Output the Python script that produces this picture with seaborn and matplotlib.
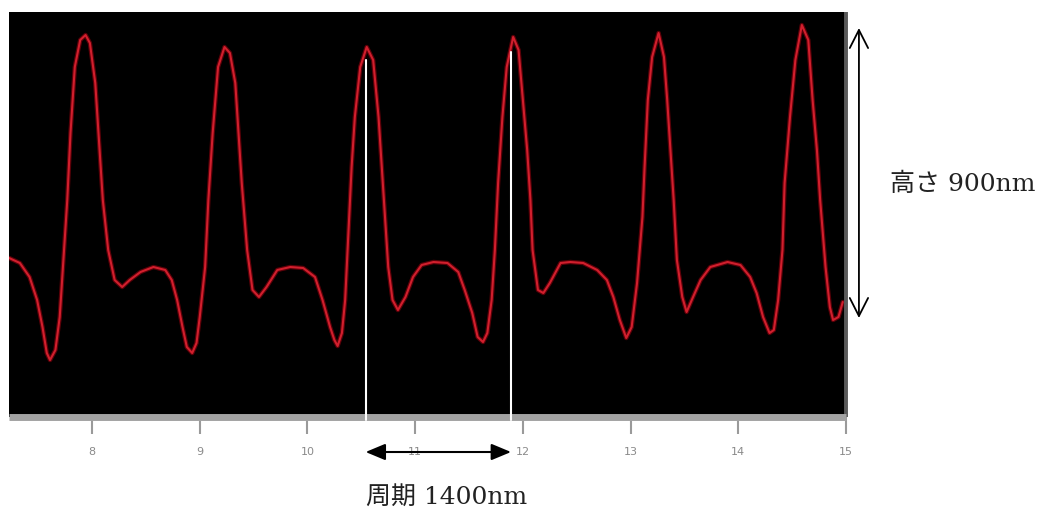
"""Line profile of a periodic structure, with period / height annotations."""

import matplotlib

matplotlib.use("Agg")
import matplotlib.pyplot as plt
import pandas as pd
import seaborn as sns

sns.set_style("white")
plt.rcParams["figure.dpi"] = 100

# profile: lateral position (um) and height (nm)
position_um = [
    7.23, 7.33, 7.42, 7.49, 7.54, 7.58, 7.61, 7.66, 7.70, 7.73,
    7.77, 7.80, 7.84, 7.89, 7.94, 7.98, 8.03, 8.06, 8.10, 8.15,
    8.21, 8.28, 8.35, 8.45, 8.57, 8.68, 8.74, 8.79, 8.84, 8.88,
    8.93, 8.97, 9.00, 9.05, 9.08, 9.12, 9.17, 9.23, 9.28, 9.33,
    9.36, 9.39, 9.44, 9.49, 9.55, 9.62, 9.72, 9.84, 9.96, 10.07,
    10.14, 10.21, 10.25, 10.28, 10.32, 10.35, 10.38, 10.41, 10.44, 10.49,
    10.55, 10.61, 10.66, 10.69, 10.72, 10.75, 10.79, 10.84, 10.91, 10.98,
    11.06, 11.17, 11.30, 11.40, 11.46, 11.53, 11.58, 11.63, 11.67, 11.71,
    11.74, 11.77, 11.81, 11.85, 11.91, 11.96, 12.00, 12.04, 12.07, 12.09,
    12.14, 12.19, 12.25, 12.35, 12.44, 12.56, 12.69, 12.78, 12.84, 12.90,
    12.96, 13.01, 13.06, 13.11, 13.13, 13.16, 13.20, 13.26, 13.31, 13.34,
    13.37, 13.40, 13.43, 13.48, 13.52, 13.58, 13.65, 13.74, 13.90, 14.02,
    14.11, 14.17, 14.23, 14.29, 14.33, 14.37, 14.41, 14.43, 14.48, 14.53,
    14.59, 14.65, 14.69, 14.73, 14.76, 14.81, 14.85, 14.88, 14.93, 14.97,
]
height_nm = [
    465, 450, 408, 339, 258, 180, 159, 189, 288, 438,
    639, 840, 1038, 1119, 1134, 1110, 990, 840, 639, 489,
    399, 378, 399, 423, 438, 429, 399, 339, 258, 198,
    180, 210, 288, 438, 639, 840, 1038, 1098, 1080, 990,
    840, 690, 489, 369, 348, 378, 429, 438, 435, 408,
    339, 258, 219, 201, 240, 339, 540, 738, 888, 1038,
    1098, 1059, 888, 738, 588, 438, 339, 309, 348, 408,
    444, 453, 450, 423, 369, 300, 228, 213, 240, 339,
    489, 690, 888, 1038, 1128, 1089, 939, 789, 639, 489,
    369, 360, 390, 450, 453, 450, 429, 399, 348, 279,
    225, 258, 390, 588, 738, 939, 1068, 1140, 1068, 939,
    789, 639, 459, 348, 303, 348, 399, 438, 453, 444,
    408, 360, 288, 240, 249, 339, 489, 690, 888, 1059,
    1164, 1119, 939, 789, 639, 438, 318, 279, 288, 333,
]

tick_values = [8, 9, 10, 11, 12, 13, 14, 15]
tick_labels = ["8", "9", "10", "11", "12", "13", "14", "15"]

# two neighbouring peak tops used for the period marker
period_x = [10.54, 11.89]
period_top = [1059, 1083]
period_label = "周期 1400nm"

# height marker (bottom, top) and its label
height_span = [285, 1155]
height_label = "高さ 900nm"

profile = pd.DataFrame({"x": position_um, "h": height_nm})

fig = plt.figure(figsize=(10.46, 5.13), facecolor="white")
ax = fig.add_axes([0.0086, 0.1881, 0.8002, 0.7885])
ax.set_facecolor("black")

# dark halo under the trace, then the trace itself
sns.lineplot(data=profile, x="x", y="h", ax=ax, color="#5a0008", linewidth=3.2,
             sort=False, estimator=None, solid_joinstyle="round")
sns.lineplot(data=profile, x="x", y="h", ax=ax, color="#d11f2d", linewidth=1.5,
             sort=False, estimator=None, solid_joinstyle="round")

ax.set_xlim(7.229, 15.0)
ax.set_ylim(-10.5, 1203)
ax.set_xlabel("")
ax.set_ylabel("")
ax.set_yticks([])
ax.set_xticks(tick_values, labels=tick_labels)
ax.tick_params(axis="x", bottom=True, direction="out", length=12, width=1.5,
               color="#9a9a9a", labelsize=8, labelcolor="#8a8a8a", pad=10)

for side in ["top", "left"]:
    ax.spines[side].set_visible(False)
ax.spines["bottom"].set_color("#a3a3a3")
ax.spines["bottom"].set_linewidth(5)
ax.spines["bottom"].set_capstyle("butt")
ax.spines["right"].set_color("#5a5a5a")
ax.spines["right"].set_linewidth(2.8)
ax.spines["right"].set_capstyle("butt")

# white guide lines at the peak tops, running over the axis band
for px, top in zip(period_x, period_top):
    ax.plot([px, px], [top, -21], color="white", linewidth=1.5, clip_on=False, zorder=3)

plt.rcParams["font.family"] = ["DejaVu Serif", "Noto Sans CJK JP"]

ax.annotate("", xy=(period_x[0], -117), xytext=(period_x[1], -117),
            annotation_clip=False,
            arrowprops=dict(arrowstyle="<|-|>,head_length=0.6,head_width=0.25",
                            color="black", lw=1.5, mutation_scale=20,
                            shrinkA=0, shrinkB=0))
ax.text(11.29, -252, period_label, ha="center", va="center",
        fontsize=18, color="#222222", clip_on=False,
        family=["DejaVu Serif", "Noto Sans CJK JP"])

ax.annotate("", xy=(15.12, height_span[1]), xytext=(15.12, height_span[0]),
            annotation_clip=False,
            arrowprops=dict(arrowstyle="<->,head_length=0.65,head_width=0.33",
                            color="black", lw=1.3, mutation_scale=20,
                            shrinkA=0, shrinkB=0))
ax.text(15.41, 687, height_label, ha="left", va="center", fontsize=18,
        color="#222222", clip_on=False,
        family=["DejaVu Serif", "Noto Sans CJK JP"])

fig.savefig("out.png", dpi=100, facecolor="white")
plt.close(fig)
